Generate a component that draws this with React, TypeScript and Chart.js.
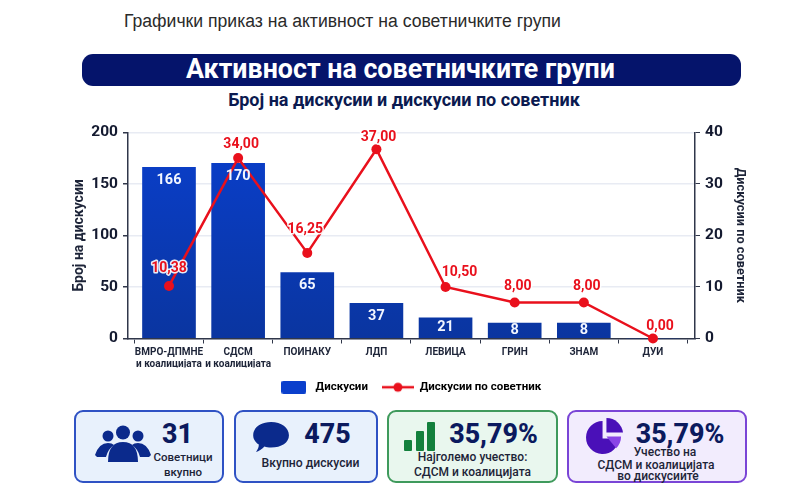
import { useEffect, useRef } from "react";
import { Chart, registerables } from "chart.js";

Chart.register(...registerables);

const FONT = "Roboto, 'Noto Sans', sans-serif";
const NAVY = "#0b1a5e";
const RED = "#e9101c";
const AXIS = "#30374a";

const categories = [
  ["ВМРО-ДПМНЕ", "и коалицијата"],
  ["СДСМ", "и коалицијата"],
  "ПОИНАКУ",
  "ЛДП",
  "ЛЕВИЦА",
  "ГРИН",
  "ЗНАМ",
  "ДУИ",
];

// bar heights and point heights as drawn; the printed labels do not always agree with them
const discussions = [166, 170, 64, 34, 20, 15, 15, 0];
const discussionLabels = ["166", "170", "65", "37", "21", "8", "8", ""];
const perCouncillor = [10.2, 35, 16.6, 36.7, 10, 7, 7, 0];
const perCouncillorLabels = ["10,38", "34,00", "16,25", "37,00", "10,50", "8,00", "8,00", "0,00"];
const labelShift = [[0, -17], [3, -14], [-2, -23], [2, -12], [14, -14], [3, -16], [3, -16], [7, -12]];

function legendLineMarker() {
  const c = document.createElement("canvas");
  c.width = 32;
  c.height = 12;
  const g = c.getContext("2d")!;
  g.strokeStyle = RED;
  g.lineWidth = 2.5;
  g.beginPath();
  g.moveTo(0, 6);
  g.lineTo(32, 6);
  g.stroke();
  g.fillStyle = RED;
  g.beginPath();
  g.arc(16, 6, 4.5, 0, Math.PI * 2);
  g.fill();
  return c;
}

function legendBarMarker() {
  const c = document.createElement("canvas");
  c.width = 25;
  c.height = 13;
  const g = c.getContext("2d")!;
  g.fillStyle = "#0a3fcc";
  g.beginPath();
  g.roundRect(0, 0, 25, 13, 2);
  g.fill();
  return c;
}

const valueLabels = {
  id: "valueLabels",
  afterDatasetsDraw(chart: Chart) {
    const ctx = chart.ctx;
    ctx.save();
    ctx.textAlign = "center";
    ctx.textBaseline = "middle";

    const bars = chart.getDatasetMeta(0).data;
    ctx.font = `700 14.5px ${FONT}`;
    ctx.fillStyle = "#f2f6ff";
    bars.forEach((bar: any, i) => {
      if (!discussionLabels[i]) return;
      const y = Math.min(bar.y + 13, (bar.y + bar.base) / 2);
      ctx.fillText(discussionLabels[i], bar.x, y);
    });

    const points = chart.getDatasetMeta(1).data;
    ctx.font = `700 14px ${FONT}`;
    ctx.lineJoin = "round";
    points.forEach((pt: any, i) => {
      const [dx, dy] = labelShift[i];
      ctx.strokeStyle = "rgba(255,255,255,0.9)";
      ctx.lineWidth = 3;
      ctx.strokeText(perCouncillorLabels[i], pt.x + dx, pt.y + dy);
      ctx.fillStyle = RED;
      ctx.fillText(perCouncillorLabels[i], pt.x + dx, pt.y + dy);
    });
    ctx.restore();
  },
};

function BarChart() {
  const ref = useRef<HTMLCanvasElement>(null);

  useEffect(() => {
    if (!ref.current) return;
    const chart = new Chart(ref.current, {
      type: "bar",
      data: {
        datasets: [
          {
            type: "bar",
            label: "Дискусии",
            data: discussions.map((y, x) => ({ x, y })),
            yAxisID: "y",
            barThickness: 53,
            order: 2,
            backgroundColor: (c: any) => {
              const { ctx, chartArea } = c.chart;
              if (!chartArea) return "#0a3fcc";
              const g = ctx.createLinearGradient(0, chartArea.top, 0, chartArea.bottom);
              g.addColorStop(0, "#0a3fcc");
              g.addColorStop(1, "#0a35a0");
              return g;
            },
          },
          {
            type: "line",
            label: "Дискусии по советник",
            data: perCouncillor.map((y, x) => ({ x, y })),
            yAxisID: "y1",
            order: 1,
            borderColor: RED,
            backgroundColor: RED,
            borderWidth: 2.5,
            pointRadius: 5,
            pointBackgroundColor: RED,
            pointBorderWidth: 0,
            tension: 0,
            clip: false,
          },
        ],
      } as any,
      options: {
        animation: false,
        responsive: false,
        layout: { padding: { top: 10, bottom: 5, left: 71, right: 52 } },
        plugins: {
          title: { display: false },
          tooltip: { enabled: false },
          legend: {
            position: "bottom",
            labels: {
              color: "#1d2438",
              font: { family: FONT, size: 11.5, weight: "bold" },
              usePointStyle: true,
              pointStyleWidth: 32,
              padding: 14,
              generateLabels: () => [
                { text: "Дискусии", pointStyle: legendBarMarker(), lineWidth: 0, datasetIndex: 0 },
                { text: "Дискусии по советник", pointStyle: legendLineMarker(), lineWidth: 0, datasetIndex: 1 },
              ],
            },
          },
        },
        scales: {
          x: {
            type: "linear",
            offset: false,
            min: -0.593,
            max: 7.608,
            afterBuildTicks: (s: any) => {
              s.ticks = categories.map((_, value) => ({ value }));
            },
            afterFit: (s: any) => {
              s.height = 29;
            },
            ticks: {
              autoSkip: false,
              maxRotation: 0,
              color: "#1d2438",
              padding: 3,
              font: { family: FONT, size: 10, weight: "bold" },
              callback: (v: any) => categories[v],
            },
            grid: { drawOnChartArea: false, tickColor: AXIS, tickLength: 5 },
            border: { color: AXIS, width: 1.5 },
          },
          y: {
            position: "left",
            min: 0,
            max: 200,
            afterFit: (s: any) => {
              s.width = 57;
            },
            ticks: {
              stepSize: 50,
              color: "#141a30",
              padding: 5,
              font: { family: FONT, size: 15.5, weight: "bold" },
            },
            title: {
              display: true,
              text: "Број на дискусии",
              color: "#1d2438",
              padding: { top: 0, bottom: 0 },
              font: { family: FONT, size: 14, weight: "bold" },
            },
            grid: { color: "#e8ebf3", lineWidth: 1.5, tickColor: AXIS, tickLength: 5 },
            border: { color: AXIS, width: 1.5 },
          },
          y1: {
            position: "right",
            min: 0,
            max: 40,
            afterFit: (s: any) => {
              s.width = 53;
            },
            ticks: {
              stepSize: 10,
              color: "#141a30",
              padding: 5,
              font: { family: FONT, size: 15.5, weight: "bold" },
            },
            title: {
              display: true,
              text: "Дискусии по советник",
              color: "#1d2438",
              padding: { top: 0, bottom: 0 },
              font: { family: FONT, size: 12.8, weight: "bold" },
            },
            grid: { drawOnChartArea: false, tickColor: AXIS, tickLength: 5 },
            border: { color: AXIS, width: 1.5 },
          },
        },
      },
      plugins: [valueLabels],
    } as any);

    return () => chart.destroy();
  }, []);

  return (
    <canvas
      ref={ref}
      width={800}
      height={290}
      style={{ position: "absolute", left: 0, top: 118, width: 800, height: 290 }}
    />
  );
}

function Card(props: {
  left: number;
  width: number;
  border: string;
  bg: string;
  children: any;
}) {
  return (
    <div
      style={{
        position: "absolute",
        left: props.left,
        top: 410,
        width: props.width,
        height: 73,
        boxSizing: "border-box",
        border: `2px solid ${props.border}`,
        borderRadius: 9,
        background: props.bg,
      }}
    >
      {props.children}
    </div>
  );
}

function Txt(props: { x: number; y: number; w: number; size: number; weight?: number; color?: string; children: any }) {
  return (
    <div
      style={{
        position: "absolute",
        left: props.x,
        top: props.y,
        width: props.w,
        textAlign: "center",
        fontSize: props.size,
        lineHeight: `${Math.round(props.size * 1.2)}px`,
        fontWeight: props.weight ?? 500,
        color: props.color ?? "#1d2438",
        whiteSpace: "nowrap",
      }}
    >
      {props.children}
    </div>
  );
}

export default function App() {
  return (
    <div
      style={{
        position: "absolute",
        left: 0,
        top: 0,
        width: 800,
        height: 503,
        overflow: "hidden",
        background: "#fff",
        fontFamily: FONT,
      }}
    >
      <div
        style={{
          position: "absolute",
          left: 124,
          top: 11,
          fontSize: 17.6,
          lineHeight: "20px",
          color: "#2a2a2a",
          fontFamily: "'Liberation Sans', sans-serif",
          whiteSpace: "nowrap",
        }}
      >
        Графички приказ на активност на советничките групи
      </div>
      <div
        style={{
          position: "absolute",
          left: 82,
          top: 54,
          width: 659,
          height: 32,
          boxSizing: "border-box",
          paddingRight: 22,
          borderRadius: 11,
          background: "#05146b",
          color: "#fff",
          textAlign: "center",
          fontSize: 26.8,
          fontWeight: 700,
          lineHeight: "31px",
          whiteSpace: "nowrap",
        }}
      >
        Активност на советничките групи
      </div>
      <div
        style={{
          position: "absolute",
          left: 82,
          top: 89,
          width: 644,
          textAlign: "center",
          fontSize: 18,
          fontWeight: 700,
          lineHeight: "21px",
          color: "#0b1a50",
          whiteSpace: "nowrap",
        }}
      >
        Број на дискусии и дискусии по советник
      </div>

      <BarChart />

      <Card left={74} width={150} border="#2f52c4" bg="#e8f1fc">
        <svg style={{ position: "absolute", left: 19, top: 13 }} width="56" height="38" viewBox="0 0 56 38">
          <g fill="#0b2a8c">
            <circle cx="13" cy="11" r="5.5" />
            <circle cx="28" cy="7.5" r="7" />
            <circle cx="43" cy="11" r="5.5" />
            <path d="M0 30 Q4 18 13 18 Q17 18 19 20 Q13 24 11 32 L2 32 Z" />
            <path d="M56 30 Q52 18 43 18 Q39 18 37 20 Q43 24 45 32 L54 32 Z" />
            <path d="M13 37 Q13 17 28 17 Q43 17 43 37 Z" />
          </g>
        </svg>
        <Txt x={76.5} y={6} w={50} size={26.8} weight={800} color={NAVY}>31</Txt>
        <Txt x={75} y={38} w={64} size={11.5}>Советници</Txt>
        <Txt x={75} y={52.5} w={64} size={11.5}>вкупно</Txt>
      </Card>

      <Card left={234} width={144} border="#2f52c4" bg="#e8f1fc">
        <svg style={{ position: "absolute", left: 17, top: 10 }} width="38" height="32" viewBox="0 0 40 34">
          <path
            fill="#0b2a8c"
            d="M19 0 C30 0 38 6 38 14 C38 22 30 27 19 27 C16 27 14 27 12 26 C9 29 6 31 3 32 C5 29 6 27 6 24 C2 21 0 18 0 14 C0 6 8 0 19 0 Z"
          />
        </svg>
        <Txt x={56.5} y={6} w={70} size={26.8} weight={800} color={NAVY}>475</Txt>
        <Txt x={18.5} y={43.5} w={112} size={12.2}>Вкупно дискусии</Txt>
      </Card>

      <Card left={387} width={171} border="#3f9a5c" bg="#e9f7ee">
        <svg style={{ position: "absolute", left: 15, top: 10 }} width="32" height="30" viewBox="0 0 32 30">
          <g fill="#13803c">
            <rect x="0" y="18" width="8" height="11" rx="1" />
            <rect x="12" y="9" width="8" height="20" rx="1" />
            <rect x="23" y="0" width="8" height="29" rx="1" />
          </g>
        </svg>
        <Txt x={48.5} y={6} w={112} size={26.8} weight={800} color={NAVY}>35,79%</Txt>
        <Txt x={5} y={38} w={157} size={12}>Најголемо учество:</Txt>
        <Txt x={5} y={53} w={157} size={12}>СДСМ и коалицијата</Txt>
      </Card>

      <Card left={567} width={180} border="#7a45d6" bg="#f2ecfd">
        <svg style={{ position: "absolute", left: 17, top: 6 }} width="37" height="37" viewBox="0 0 38 38">
          <path fill="#4a10b8" d="M17 3 A17 17 0 1 0 34 21 L17 21 Z" />
          <path fill="#4a10b8" d="M21 0 A17 17 0 0 1 38 15 L21 15 Z" />
          <path fill="#8a45e6" d="M21 19 L36 19 A17 17 0 0 1 31 31 Z" />
        </svg>
        <Txt x={53.5} y={6} w={115} size={26.8} weight={800} color={NAVY}>35,79%</Txt>
        <Txt x={21} y={33} w={150} size={12}>Учество на</Txt>
        <Txt x={12} y={46} w={150} size={12}>СДСМ и коалицијата</Txt>
        <Txt x={14} y={57} w={150} size={12}>во дискусиите</Txt>
      </Card>
    </div>
  );
}
